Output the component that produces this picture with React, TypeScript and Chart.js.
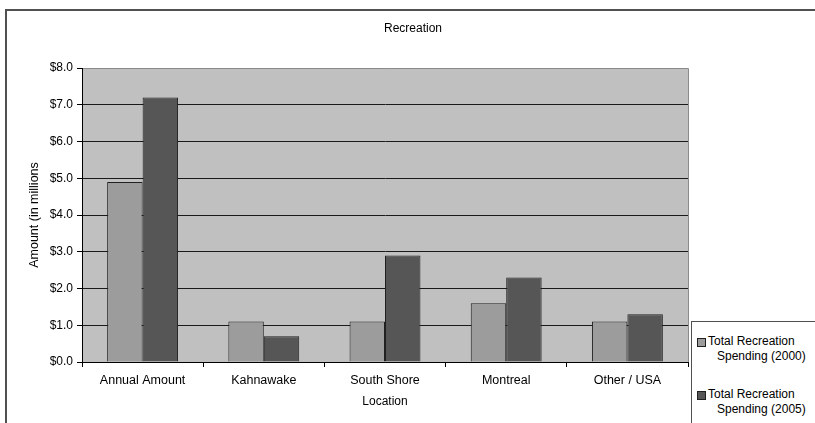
import React, { useEffect, useRef } from "react";
import { Chart, registerables } from "chart.js";

Chart.register(...registerables);

const categories = ["Annual Amount", "Kahnawake", "South Shore", "Montreal", "Other / USA"];
const spending2000 = [4.9, 1.1, 1.1, 1.6, 1.1];
const spending2005 = [7.2, 0.7, 2.9, 2.3, 1.3];
const seriesLabels = [
  ["Total Recreation", "Spending (2000)"],
  ["Total Recreation", "Spending (2005)"],
];
const seriesColors = ["#9c9c9c", "#565656"];
const chartTitle = "Recreation";
const yTitle = "Amount (in millions";
const xTitle = "Location";

const FONT = "'Liberation Sans', Arial, sans-serif";

const decorPlugin = {
  id: "decor",
  beforeDraw(chart: any) {
    const { ctx, chartArea } = chart;
    ctx.save();
    ctx.fillStyle = "#ffffff";
    ctx.fillRect(0, 0, chart.width, chart.height);
    ctx.fillStyle = "#c0c0c0";
    ctx.fillRect(chartArea.left, chartArea.top, chartArea.right - chartArea.left, chartArea.bottom - chartArea.top);
    ctx.strokeStyle = "#8a8a8a";
    ctx.lineWidth = 1;
    ctx.beginPath();
    ctx.moveTo(chartArea.left, chartArea.top + 0.5);
    ctx.lineTo(chartArea.right + 0.5, chartArea.top + 0.5);
    ctx.lineTo(chartArea.right + 0.5, chartArea.bottom);
    ctx.stroke();
    // outer frame
    ctx.strokeStyle = "#505050";
    ctx.lineWidth = 2;
    ctx.beginPath();
    ctx.moveTo(6, chart.height + 5);
    ctx.lineTo(6, 10);
    ctx.lineTo(chart.width + 5, 10);
    ctx.stroke();
    // title
    ctx.fillStyle = "#000";
    ctx.font = `12px ${FONT}`;
    ctx.textAlign = "center";
    ctx.textBaseline = "middle";
    ctx.fillText(chartTitle, 413, 29);
    ctx.restore();
  },
};

export default function App() {
  const ref = useRef<HTMLCanvasElement>(null);
  useEffect(() => {
    const chart = new Chart(ref.current!, {
      type: "bar",
      data: {
        labels: categories,
        datasets: [
          {
            label: seriesLabels[0].join(" "),
            data: spending2000,
            backgroundColor: seriesColors[0],
            borderColor: "#202020",
            borderWidth: 1,
            barPercentage: 1,
            categoryPercentage: 0.585,
          },
          {
            label: seriesLabels[1].join(" "),
            data: spending2005,
            backgroundColor: seriesColors[1],
            borderColor: "#202020",
            borderWidth: 1,
            barPercentage: 1,
            categoryPercentage: 0.585,
          },
        ],
      },
      options: {
        animation: false,
        responsive: false,
        devicePixelRatio: 1,
        layout: { padding: { left: 0, top: 68, right: 127, bottom: 0 } },
        plugins: {
          legend: { display: false },
          tooltip: { enabled: false },
          title: { display: false },
        },
        scales: {
          x: {
            afterFit: (s: any) => {
              s.height = 61;
            },
            grid: {
              offset: true,
              drawOnChartArea: false,
              drawTicks: true,
              tickLength: 5,
              color: "#000",
            },
            border: { color: "#000", width: 1 },
            ticks: { color: "#000", font: { family: FONT, size: 12.5 }, padding: 6, maxRotation: 0 },
            title: {
              display: true,
              text: xTitle,
              color: "#000",
              font: { family: FONT, size: 12 },
              padding: { top: 0, bottom: 14 },
            },
          },
          y: {
            min: 0,
            max: 8,
            afterFit: (s: any) => {
              s.width = 82;
            },
            ticks: {
              stepSize: 1,
              color: "#000",
              font: { family: FONT, size: 12 },
              padding: 4,
              callback: (v: any) => "$" + Number(v).toFixed(1),
            },
            grid: {
              color: (c: any) => (c.tick && c.tick.value === 8 ? "#8a8a8a" : "#1a1a1a"),
              tickColor: "#000",
              tickLength: 5,
              drawTicks: true,
            },
            border: { color: "#000", width: 1 },
            title: {
              display: true,
              text: yTitle,
              color: "#000",
              font: { family: FONT, size: 12.5 },
              padding: { top: 27, bottom: 0 },
            },
          },
        },
      },
      plugins: [decorPlugin],
    });
    return () => chart.destroy();
  }, []);

  return (
    <div style={{ position: "fixed", left: 0, top: 0, width: 815, height: 423, overflow: "hidden", background: "#fff" }}>
      <canvas ref={ref} width={815} height={423} style={{ position: "absolute", left: 0, top: 0, width: 815, height: 423 }} />
      <div
        style={{
          position: "absolute",
          left: 691,
          top: 321,
          width: 200,
          height: 200,
          border: "1px solid #505050",
          background: "#fff",
          fontFamily: FONT,
          fontSize: 12,
          color: "#000",
        }}
      >
        {seriesLabels.map((lines, i) => (
          <div key={i} style={{ position: "absolute", left: 5, top: 12 + i * 53, display: "flex" }}>
            <div
              style={{
                width: 7,
                height: 7,
                marginTop: 4,
                marginRight: 2,
                background: seriesColors[i],
                border: "1px solid #202020",
              }}
            />
            <div style={{ lineHeight: "15px", whiteSpace: "nowrap" }}>
              {lines.map((l, j) => (
                <div key={j} style={{ paddingLeft: j === 1 ? 9 : 0 }}>{l}</div>
              ))}
            </div>
          </div>
        ))}
      </div>
    </div>
  );
}
